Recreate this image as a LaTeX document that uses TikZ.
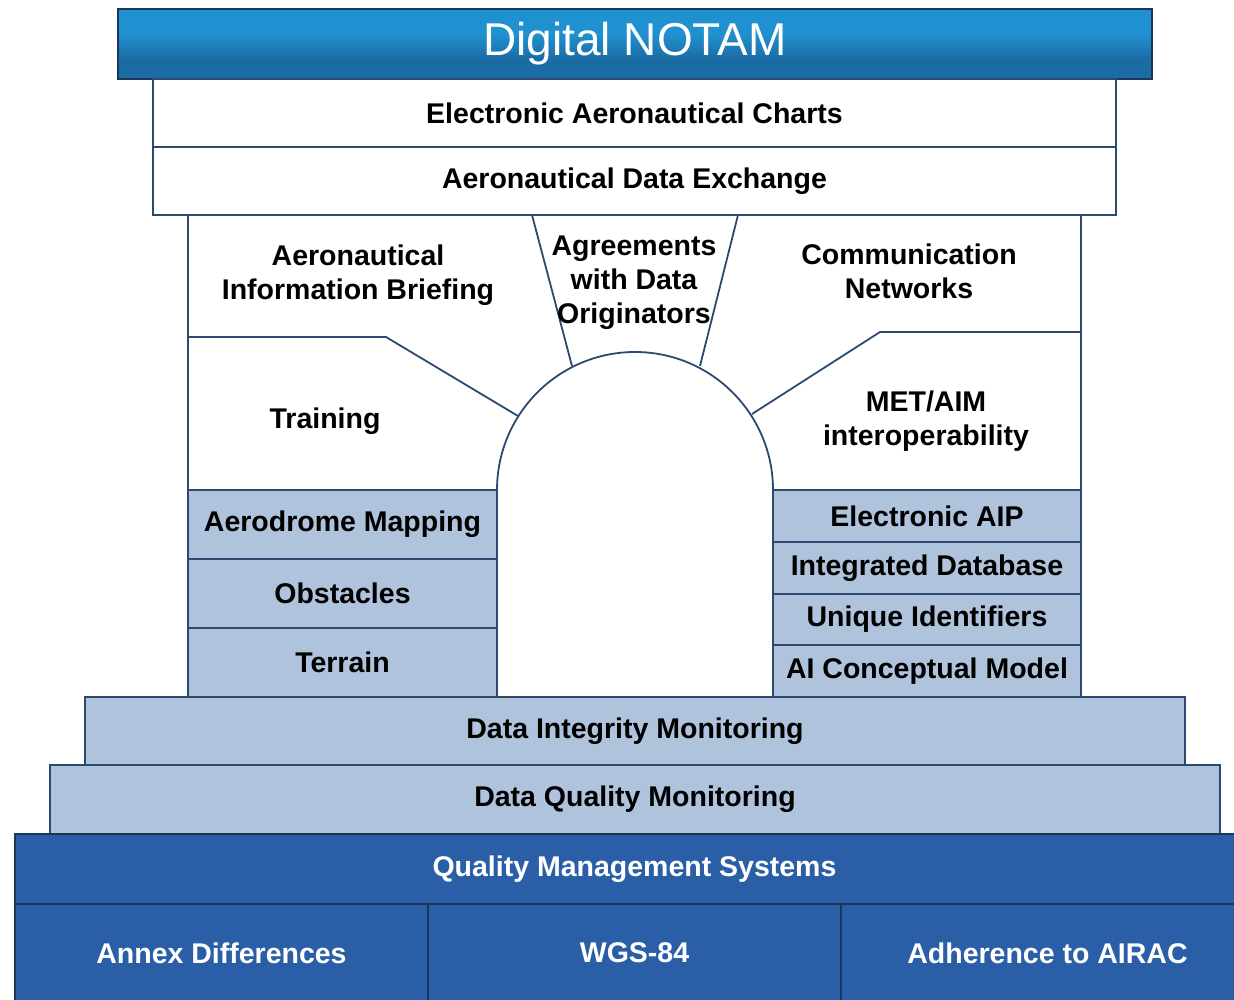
\documentclass[tikz,border=0pt]{standalone}
\usepackage{fontspec}
\setmainfont{Liberation Sans}
\usetikzlibrary{positioning}
\definecolor{edge}{HTML}{2C4A70}
\definecolor{darkedge}{HTML}{1D3557}
\definecolor{pale}{HTML}{B0C3DD}
\definecolor{deep}{HTML}{2A5EA6}
\definecolor{bannerhigh}{HTML}{8EE6FB}
\definecolor{bannertop}{HTML}{3AB8EA}
\definecolor{bannermid}{HTML}{2091D0}
\definecolor{bannerbot}{HTML}{1B6CA5}
\pgfdeclareverticalshading{bannershade}{100bp}{
    color(0bp)=(bannerbot); color(27bp)=(bannerbot); color(45bp)=(bannermid);
    color(66bp)=(bannermid); color(71bp)=(bannertop); color(72bp)=(bannerhigh);
    color(75bp)=(bannerhigh)}
\tikzset{
    box/.style={draw=edge, line width=1.8pt, inner sep=0pt, align=center,
        font=\fontsize{28.5}{34}\selectfont\bfseries},
    whiteblock/.style={box, fill=white},
    paleblock/.style={box, fill=pale},
    deepblock/.style={box, draw=darkedge, fill=deep, text=white},
    lbl/.style={inner sep=0pt, align=center, font=\fontsize{28.5}{34}\selectfont\bfseries},
    divider/.style={draw=edge, line width=1.8pt}
}

\begin{document}
\begin{tikzpicture}[x=1pt, y=-1pt]
                    \useasboundingbox (0,0) rectangle (1234,1000);

                    % title banner
                    \node[draw=darkedge, line width=1.8pt, shading=bannershade, text=white,
                        minimum width=1034pt, minimum height=70pt, inner sep=0pt,
                        font=\fontsize{46}{50}\selectfont] (notam) at (635,44) {Digital NOTAM};

                    % top bands
                    \node[whiteblock, minimum width=963pt, minimum height=68pt] (charts) at (634.5,113) {Electronic Aeronautical Charts};
                    \node[whiteblock, minimum width=963pt, minimum height=68pt] (exchange) at (634.5,181) {Aeronautical Data Exchange};

                    % arch outline
                    \draw[divider]
                    (188, 215) -- (188, 490)
                    (1081, 215) -- (1081, 490)
                    (497, 490) arc (180:360:138);
                    \draw[divider]
                    (532, 215) -- (572, 366)
                    (738, 215) -- (700, 366)
                    (188, 337) -- (386, 337) -- (518, 416)
                    (1081, 332) -- (880, 332) -- (752, 414);

                    \node[lbl] (briefing) at (358, 275) {Aeronautical\\Information Briefing};
                    \node[lbl] (agreements) at (634, 283) {Agreements\\with Data\\Originators};
                    \node[lbl] (networks) at (909, 271) {Communication\\Networks};
                    \node[lbl] (training) at (325, 421) {Training};
                    \node[lbl] (metaim) at (926, 421) {MET/AIM\\interoperability};

                    % left pillar
                    \node[paleblock, minimum width=309pt, minimum height=69pt] (aerodrome) at (342.5,524.5) {Aerodrome Mapping};
                    \node[paleblock, minimum width=309pt, minimum height=69pt] (obstacles) at (342.5,593.5) {Obstacles};
                    \node[paleblock, minimum width=309pt, minimum height=69pt] (terrain) at (342.5,662.5) {Terrain};

                    % right pillar
                    \node[paleblock, minimum width=308pt, minimum height=52pt] (eaip) at (927,516) {Electronic AIP};
                    \node[paleblock, minimum width=308pt, minimum height=52pt] (database) at (927,568) {Integrated Database};
                    \node[paleblock, minimum width=308pt, minimum height=51pt] (identifiers) at (927,619.5) {Unique Identifiers};
                    \node[paleblock, minimum width=308pt, minimum height=52pt] (model) at (927,671) {AI Conceptual Model};

                    % foundation steps
                    \node[paleblock, minimum width=1100pt, minimum height=68pt] (integrity) at (635,731) {Data Integrity Monitoring};
                    \node[paleblock, minimum width=1170pt, minimum height=69pt] (quality) at (635,799.5) {Data Quality Monitoring};
                    \node[deepblock, minimum width=1239pt, minimum height=70pt] (qms) at (634.5,869) {Quality Management Systems};
                    \node[deepblock, minimum width=413pt, minimum height=98pt] (annex) at (221.5,953) {Annex Differences};
                    \node[deepblock, minimum width=413pt, minimum height=98pt] (wgs) at (634.5,953) {WGS-84};
                    \node[deepblock, minimum width=413pt, minimum height=98pt] (airac) at (1047.5,953) {Adherence to AIRAC};
                \end{tikzpicture}
\end{document}
